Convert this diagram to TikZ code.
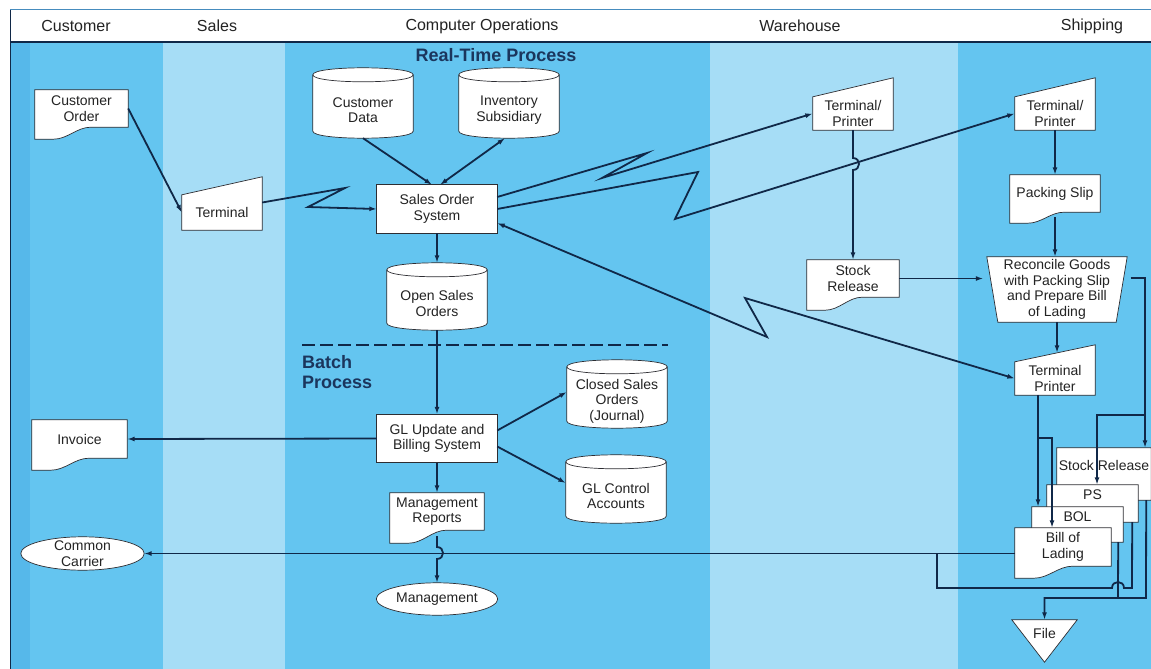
\documentclass[tikz,border=0pt]{standalone}
\usepackage{fontspec}
\setmainfont{Liberation Sans}
\usetikzlibrary{arrows.meta,calc}

\pgfdeclarelayer{lanes}
\pgfdeclarelayer{shapes}
\pgfsetlayers{lanes,shapes,main}

\definecolor{lanemid}{RGB}{100,197,240}
\definecolor{lanelight}{RGB}{166,221,246}
\definecolor{laneedge}{RGB}{86,184,234}
\definecolor{ink}{RGB}{16,40,72}
\definecolor{edgec}{RGB}{45,45,50}
\definecolor{txt}{RGB}{35,35,35}
\definecolor{navy}{RGB}{27,54,93}
\definecolor{rule}{RGB}{70,140,190}

\newcommand\nodefont{\fontsize{14}{15.5}\selectfont}
\newcommand\headfont{\fontsize{16}{18}\selectfont}
\newcommand\bigbold{\fontsize{18}{19.5}\selectfont\bfseries}

% symbol outlines, drawn around named text boxes
\newcommand\mkrect[1]{\path[shp] (#1.south west) rectangle (#1.north east);}
\newcommand\mkdoc[3]{% name, drop of right edge, extra drop of left edge
  \path[shp] (#1.north west) -- (#1.north east) -- ($(#1.south east)+(0,#2)$)
    -- ($(#1.south west)!0.6!(#1.south east)+(0,#2)$)
    .. controls ($(#1.south west)!0.45!(#1.south east)+(0,#2)$)
       and ($(#1.south west)!0.35!(#1.south east)+(0,#2+#3)$)
    .. ($(#1.south west)!0.2!(#1.south east)+(0,#2+#3)$)
    -- ($(#1.south west)+(0,#2+#3)$) -- cycle;}
\newcommand\mkcyl[1]{%
  \path[shp] ($(#1.north west)+(0,-7)$) -- ($(#1.south west)+(0,-7)$)
    .. controls ($(#1.south west)+(0,2.33)$) and ($(#1.south east)+(0,2.33)$)
    .. ($(#1.south east)+(0,-7)$) -- ($(#1.north east)+(0,-7)$)
    .. controls ($(#1.north east)+(0,-16.33)$) and ($(#1.north west)+(0,-16.33)$)
    .. ($(#1.north west)+(0,-7)$) -- cycle;
  \draw[draw=edgec, line width=0.7pt] ($(#1.north west)+(0,-7)$)
    .. controls ($(#1.north west)+(0,2.33)$) and ($(#1.north east)+(0,2.33)$)
    .. ($(#1.north east)+(0,-7)$);}
\newcommand\mkinput[2]{\path[shp] (#1.north west) -- ($(#1.north east)+(0,-#2)$)
    -- (#1.south east) -- (#1.south west) -- cycle;}
\newcommand\mkop[2]{\path[shp] (#1.north west) -- (#1.north east)
    -- ($(#1.south east)+(-#2,0)$) -- ($(#1.south west)+(#2,0)$) -- cycle;}
\newcommand\mkoval[1]{\path[shp] let \p1=($(#1.north east)-(#1.center)$) in
    (#1.center) ellipse [x radius=\x1, y radius=\y1];}
\newcommand\mktri[2]{\path[shp] (#1.north west) -- (#1.north east)
    -- ($(#1.south)+(0,#2)$) -- cycle;}

\tikzset{
  box/.style n args={2}{font=\nodefont, text=txt, align=center, inner sep=0pt,
    minimum width=#1, minimum height=#2},
  shp/.style={draw=edgec, fill=white, line width=0.7pt},
  tip/.style={-{Latex[length=7.5pt,width=5pt]}},
  wire/.style={draw=ink, line width=1.8pt},
  conn/.style={wire, tip},
  both/.style={wire, {Latex[length=7.5pt,width=5pt]}-{Latex[length=7.5pt,width=5pt]}},
  lanehead/.style={font=\headfont, text=txt, inner sep=0pt},
  tag/.style={font=\bigbold, text=navy, inner sep=0pt},
}

\begin{document}
\begin{tikzpicture}[x=1pt, y=-1pt]
\useasboundingbox (0,0) rectangle (1151,669);

% swim lanes and heading strip
\begin{pgfonlayer}{lanes}
  \fill[white] (0,0) rectangle (1151,669);
  \fill[lanemid] (10,42) rectangle (163,669);
  \fill[laneedge] (10,42) rectangle (30,669);
  \fill[lanelight] (163,42) rectangle (285,669);
  \fill[lanemid] (285,42) rectangle (710,669);
  \fill[lanelight] (710,42) rectangle (958,669);
  \fill[lanemid] (958,42) rectangle (1151,669);
  \draw[rule, line width=1pt] (10,10) -- (1151,10);
  \draw[ink, line width=1.6pt] (10,42) -- (1151,42);
  \draw[ink, line width=1pt] (10,10) -- (10,669);
\end{pgfonlayer}

\node[lanehead] (hcust) at (76,26) {Customer};
\node[lanehead] (hsales) at (217,26) {Sales};
\node[lanehead] (hops) at (482,26) {Computer Operations};
\node[lanehead] (hwh) at (800,26) {Warehouse};
\node[lanehead] (hship) at (1092,26) {Shipping};

\node[tag] (rtp) at (496,55) {Real-Time Process};
\node[tag, align=left, anchor=west] (bp) at (302,372) {Batch\\Process};
\draw[ink, line width=2.2pt, dash pattern=on 13pt off 5pt] (302,345) -- (668,345);

% text boxes
\node[box={93}{37}] (co) at (81.5,108.5) {Customer\\Order};
\node[box={80}{35}] (term) at (222,212.5) {Terminal};
\node[box={100}{56}] (cd) at (363,110) {Customer\\Data};
\node[box={100}{56}] (inv) at (509,110) {Inventory\\Subsidiary};
\node[box={120}{48}] (sos) at (437,209) {Sales Order\\System};
\node[box={100}{53}] (oso) at (437,303.5) {Open Sales\\Orders};
\node[box={120}{48}] (gl) at (437,438.5) {GL Update and\\Billing System};
\node[box={100}{54}] (closed) at (617,401) {Closed Sales\\Orders\\(Journal)};
\node[box={100}{54}] (glc) at (616,496) {GL Control\\Accounts};
\node[box={94}{37}] (mr) at (437,511.5) {Management\\Reports};
\node[box={121}{32}] (mgmt) at (437,599) {Management};
\node[box={95}{38}] (invc) at (79.5,439) {Invoice};
\node[box={123}{33}] (cc) at (82.5,553.5) {Common\\Carrier};
\node[box={80}{33}] (tpw) at (853,113.5) {Terminal/\\Printer};
\node[box={92}{37}] (srw) at (853,278.5) {Stock\\Release};
\node[box={80}{33}] (tps) at (1055,113.5) {Terminal/\\Printer};
\node[box={90}{37}] (psl) at (1055,193.5) {Packing Slip};
\node[box={140}{65}] (rec) at (1057,289.5) {Reconcile Goods\\with Packing Slip\\and Prepare Bill\\of Lading};
\node[box={80}{33}] (tp2) at (1055,378.5) {Terminal\\Printer};
\node[box={94}{34}] (sr2) at (1104,465) {Stock Release};
\node[box={91}{20}] (ps) at (1092.5,495) {PS};
\node[box={91}{20}] (bol) at (1077.5,517) {BOL};
\node[box={96}{38}] (bl) at (1063,547) {Bill of\\Lading};
\node[box={65}{26}] (file) at (1044.5,633) {File};

% outlines of the symbols
\begin{pgfonlayer}{shapes}
  \mkdoc{co}{0}{12}
  \mkinput{term}{18}
  \mkcyl{cd}
  \mkcyl{inv}
  \mkrect{sos}
  \mkcyl{oso}
  \mkrect{gl}
  \mkcyl{closed}
  \mkcyl{glc}
  \mkdoc{mr}{0}{13}
  \mkoval{mgmt}
  \mkdoc{invc}{0}{12}
  \mkoval{cc}
  \mkinput{tpw}{19}
  \mkdoc{srw}{0}{13}
  \mkinput{tps}{19}
  \mkdoc{psl}{0}{11}
  \mkop{rec}{11}
  \mkinput{tp2}{17}
  \mkdoc{sr2}{18}{10}
  \mkdoc{ps}{17}{10}
  \mkdoc{bol}{15}{10}
  \mkdoc{bl}{0}{12}
  \mktri{file}{16}
\end{pgfonlayer}

% flows: customer, sales and real-time processing
\draw[conn] (co.east) -- (term.west);
\draw[conn] ([yshift=10pt]term.east) -- (345,188) -- (308,207) -- (sos.west);
\draw[conn] (cd.south) -- ([xshift=-5pt]sos.north);
\draw[both] ([xshift=3pt]sos.north) -- ([xshift=-4pt]inv.south);
\draw[conn] ([yshift=12pt]sos.east) -- (647,153) -- (602,178) -- (tpw.west);
\draw[conn] (sos.east) -- (698,172) -- (675,219) -- (tps.west);
\draw[both] ([yshift=-14pt]sos.east) -- (767,337) -- (745,298) -- (tp2.west);
\draw[conn] (sos.south) -- ([yshift=14pt]oso.north);

% batch processing
\draw[conn] (oso.south) -- (gl.north);
\draw[conn] (gl.west) -- (invc.east);
\draw[conn] ([yshift=8pt]gl.east) -- ([yshift=9pt]closed.west);
\draw[conn] ([yshift=-8pt]gl.east) -- ([yshift=13pt]glc.west);
\draw[conn] (gl.south) -- (mr.north);
\draw[conn] ([yshift=-6pt]mr.south) -- (437,547)
  .. controls (445,547) and (445,559) .. (437,559) -- (mgmt.north);

% warehouse
\draw[conn] (tpw.south) -- (853,158)
  .. controls (861,158) and (861,170) .. (853,170) -- (srw.north);
\draw[conn, shorten >=3.5pt] (srw.east) -- (srw.east -| rec.west);

% shipping
\draw[conn] (tps.south) -- (psl.north);
\draw[conn] ([yshift=-5pt]psl.south) -- (psl.south |- rec.north);
\draw[conn, shorten >=9pt] (rec.south) -- (rec.south |- tp2.north);
\coordinate (tpo) at ($(tp2.south)+(-17,0)$);
\coordinate (tpb) at (1052,438);
\draw[conn, line width=2.6pt] (tpo) -- (tpo |- bol.north);
\draw[conn] (tpo) |- (tpb) -- (tpb |- bl.north);
\coordinate (jr) at (1145,278);
\coordinate (jb) at (1145,415);
\draw[conn, shorten <=3.5pt] ([yshift=11.5pt]rec.east) -- (jr) -- (jr |- sr2.north);
\draw[conn] (jb) -| ([xshift=4.5pt]ps.north);

% copies leaving the shipping desk
\draw[conn] (cc.east -| bl.west) -- (cc.east);
\coordinate (jc) at (937,553.5);
\draw[wire] ($(ps.south east)+(-6,17)$) -- (1132,588) -- (1124,588)
  .. controls (1124,580) and (1112,580) .. (1112,588) -- (937,588) -- (jc);
\draw[wire] ($(bol.south east)+(-5,15)$) -- (1118,598);
\coordinate (jf) at (1146,598);
\draw[conn] ($(sr2.south east)+(0,18)$) ++(-5,0) -- (jf) -| (file.north);
\end{tikzpicture}
\end{document}
